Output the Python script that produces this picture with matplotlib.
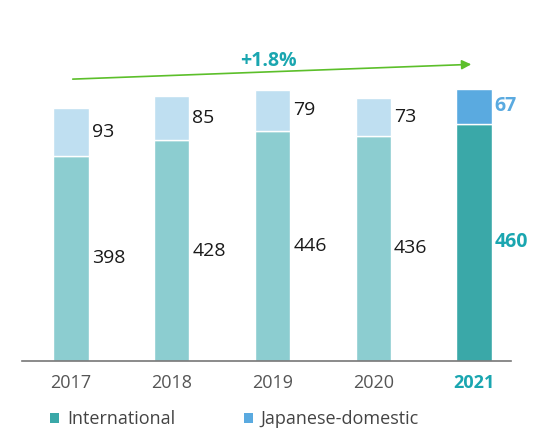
import matplotlib
matplotlib.use("Agg")
import matplotlib.pyplot as plt
from matplotlib.patches import Rectangle

years = ["2017", "2018", "2019", "2020", "2021"]
international = [398, 428, 446, 436, 460]
domestic = [93, 85, 79, 73, 67]
growth_label = "+1.8%"

plt.rcParams['font.family'] = ['Open Sans', 'DejaVu Sans']

intl_colors = ["#8ccdd0"] * 4 + ["#3aa8a8"]
dom_colors = ["#bfdff1"] * 4 + ["#5aaae0"]
label_dark = "#1a1a1a"

fig = plt.figure(figsize=(5.34, 4.30), dpi=100)
ax = fig.add_axes([22/534, 69/430, (511-22)/534, (361-40)/430])
x = list(range(len(years)))
w = 0.35
ax.bar(x, international, width=w, color=intl_colors, edgecolor="white", linewidth=1.0)
ax.bar(x, domestic, width=w, bottom=international, color=dom_colors, edgecolor="white", linewidth=1.0)

ax.set_xlim(-0.486, 4.367)
ax.set_ylim(0, 622)

for i in x:
    last = i == len(years) - 1
    c1 = "#1aa6b0" if last else label_dark
    c2 = "#5aaae0" if last else label_dark
    fw = "bold" if last else "normal"
    ax.text(i + w/2 + 0.03, international[i] * 0.5, str(international[i]), ha="left", va="center",
            fontsize=14, color=c1, fontweight=fw)
    ax.text(i + w/2 + 0.03, international[i] + domestic[i] / 2, str(domestic[i]), ha="left", va="center",
            fontsize=14, color=c2, fontweight=fw)

# growth arrow
ax.annotate("", xy=(4.0, 575), xytext=(-0.01, 546),
            arrowprops=dict(arrowstyle="-|>", color="#5cbf2a", lw=1.2, mutation_scale=14))
ax.text(1.96, 581, growth_label, ha="center", va="center", fontsize=14, fontweight="bold", color="#1aa6b0")

for s in ["top", "right", "left"]:
    ax.spines[s].set_visible(False)
ax.spines["bottom"].set_color("#777777")
ax.spines["bottom"].set_linewidth(1.2)
ax.set_yticks([])
ax.set_xticks(x)
ax.set_xticklabels(years, fontsize=13, color="#555555")
ax.tick_params(axis="x", length=0, pad=9)
lbls = ax.get_xticklabels()
lbls[-1].set_color("#1aa6b0")
lbls[-1].set_fontweight("bold")

# legend
fig.patches.append(Rectangle((50/534, (430-423)/430), 9/534, 10/430, transform=fig.transFigure,
                             facecolor="#3aa8a8", edgecolor="none"))
fig.text(67/534, (430-419)/430, "International", fontsize=13, color="#444444", va="center", ha="left")
fig.patches.append(Rectangle((244/534, (430-423)/430), 9/534, 10/430, transform=fig.transFigure,
                             facecolor="#5aaae0", edgecolor="none"))
fig.text(260/534, (430-419)/430, "Japanese-domestic", fontsize=13, color="#444444", va="center", ha="left")

fig.savefig("out.png", dpi=100)
